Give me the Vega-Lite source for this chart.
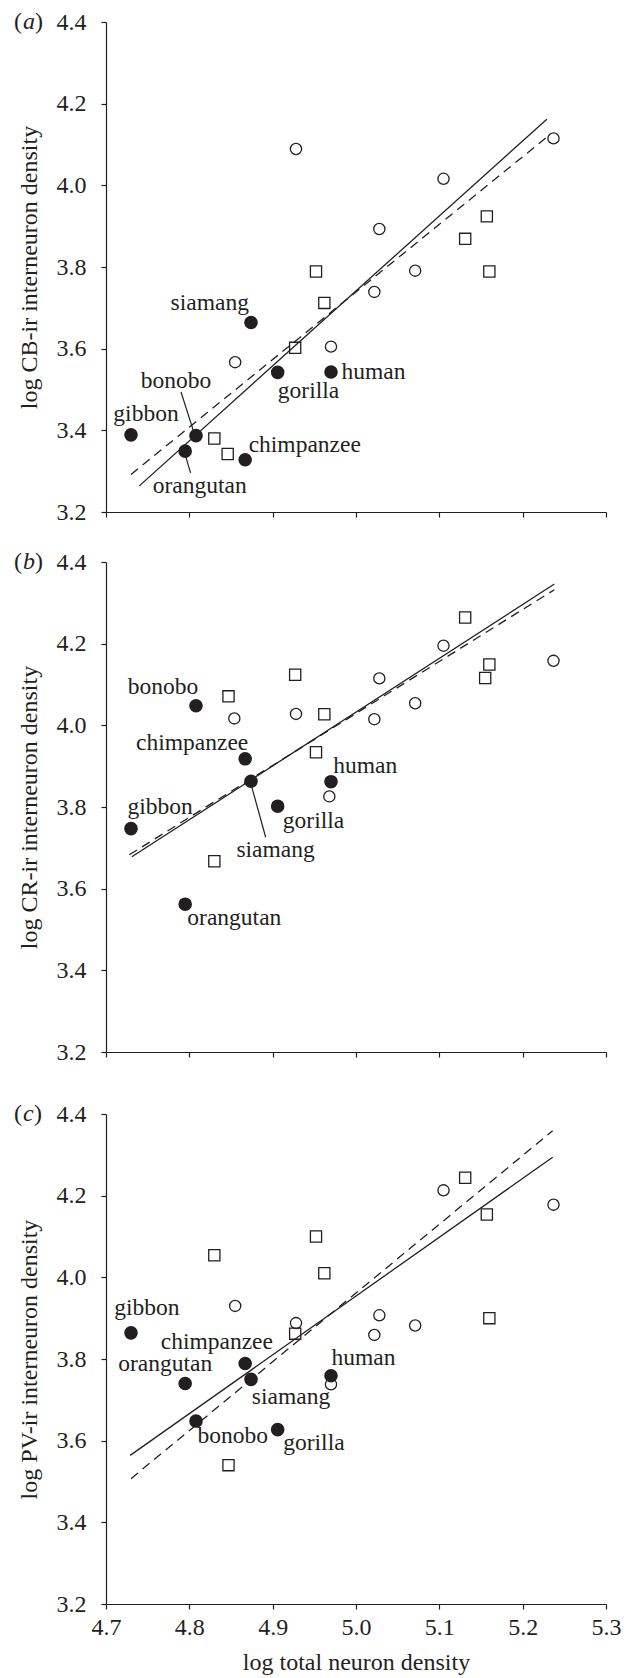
{
"$schema": "https://vega.github.io/schema/vega-lite/v6.json",
"padding": {"left": 13, "top": 10, "right": 5, "bottom": 3},
"background": "white",
"config": {
  "font": "Liberation Serif",
  "view": {"stroke": null},
  "axis": {"grid": false, "domainColor": "#231f20", "tickColor": "#231f20", "labelColor": "#231f20", "titleColor": "#231f20", "labelFont": "Liberation Serif", "titleFont": "Liberation Serif", "labelFontSize": 24, "titleFontSize": 24, "titleFontWeight": "normal", "tickSize": 5, "domainWidth": 1.2, "tickWidth": 1.2},
  "axisY": {"labelPadding": 15, "titlePadding": 15},
  "axisX": {"labelPadding": 6, "labelFlush": false, "titlePadding": 11},
  "text": {"font": "Liberation Serif", "fontSize": 23.5, "color": "#231f20"}
},
"datasets": {
  "pts": [
    {"p": "a", "t": "circle", "x": 4.928, "y": 4.089},
    {"p": "a", "t": "circle", "x": 5.237, "y": 4.115},
    {"p": "a", "t": "circle", "x": 5.105, "y": 4.016},
    {"p": "a", "t": "circle", "x": 5.028, "y": 3.893},
    {"p": "a", "t": "circle", "x": 5.071, "y": 3.791},
    {"p": "a", "t": "circle", "x": 5.022, "y": 3.739},
    {"p": "a", "t": "circle", "x": 4.970, "y": 3.605},
    {"p": "a", "t": "circle", "x": 4.855, "y": 3.567},
    {"p": "a", "t": "square", "x": 4.952, "y": 3.789},
    {"p": "a", "t": "square", "x": 4.962, "y": 3.712},
    {"p": "a", "t": "square", "x": 4.927, "y": 3.602},
    {"p": "a", "t": "square", "x": 5.157, "y": 3.924},
    {"p": "a", "t": "square", "x": 5.131, "y": 3.869},
    {"p": "a", "t": "square", "x": 5.160, "y": 3.789},
    {"p": "a", "t": "square", "x": 4.830, "y": 3.380},
    {"p": "a", "t": "square", "x": 4.846, "y": 3.342},
    {"p": "a", "t": "ape", "name": "gibbon", "x": 4.730, "y": 3.389},
    {"p": "a", "t": "ape", "name": "bonobo", "x": 4.808, "y": 3.387},
    {"p": "a", "t": "ape", "name": "orangutan", "x": 4.795, "y": 3.349},
    {"p": "a", "t": "ape", "name": "chimpanzee", "x": 4.867, "y": 3.328},
    {"p": "a", "t": "ape", "name": "siamang", "x": 4.874, "y": 3.664},
    {"p": "a", "t": "ape", "name": "gorilla", "x": 4.906, "y": 3.542},
    {"p": "a", "t": "ape", "name": "human", "x": 4.970, "y": 3.543},
    {"p": "b", "t": "circle", "x": 4.854, "y": 4.017},
    {"p": "b", "t": "circle", "x": 4.928, "y": 4.028},
    {"p": "b", "t": "circle", "x": 5.028, "y": 4.115},
    {"p": "b", "t": "circle", "x": 5.022, "y": 4.015},
    {"p": "b", "t": "circle", "x": 5.071, "y": 4.054},
    {"p": "b", "t": "circle", "x": 5.105, "y": 4.195},
    {"p": "b", "t": "circle", "x": 5.237, "y": 4.158},
    {"p": "b", "t": "circle", "x": 4.968, "y": 3.826},
    {"p": "b", "t": "square", "x": 4.847, "y": 4.071},
    {"p": "b", "t": "square", "x": 4.927, "y": 4.124},
    {"p": "b", "t": "square", "x": 4.962, "y": 4.027},
    {"p": "b", "t": "square", "x": 4.952, "y": 3.934},
    {"p": "b", "t": "square", "x": 5.131, "y": 4.264},
    {"p": "b", "t": "square", "x": 5.160, "y": 4.149},
    {"p": "b", "t": "square", "x": 5.155, "y": 4.116},
    {"p": "b", "t": "square", "x": 4.830, "y": 3.667},
    {"p": "b", "t": "ape", "name": "bonobo", "x": 4.808, "y": 4.048},
    {"p": "b", "t": "ape", "name": "chimpanzee", "x": 4.867, "y": 3.918},
    {"p": "b", "t": "ape", "name": "siamang", "x": 4.874, "y": 3.863},
    {"p": "b", "t": "ape", "name": "human", "x": 4.970, "y": 3.862},
    {"p": "b", "t": "ape", "name": "gorilla", "x": 4.906, "y": 3.802},
    {"p": "b", "t": "ape", "name": "gibbon", "x": 4.730, "y": 3.747},
    {"p": "b", "t": "ape", "name": "orangutan", "x": 4.795, "y": 3.562},
    {"p": "c", "t": "circle", "x": 4.855, "y": 3.930},
    {"p": "c", "t": "circle", "x": 4.928, "y": 3.888},
    {"p": "c", "t": "circle", "x": 5.028, "y": 3.907},
    {"p": "c", "t": "circle", "x": 5.022, "y": 3.859},
    {"p": "c", "t": "circle", "x": 5.071, "y": 3.882},
    {"p": "c", "t": "circle", "x": 5.105, "y": 4.213},
    {"p": "c", "t": "circle", "x": 5.237, "y": 4.178},
    {"p": "c", "t": "circle", "x": 4.970, "y": 3.738},
    {"p": "c", "t": "square", "x": 4.830, "y": 4.054},
    {"p": "c", "t": "square", "x": 4.952, "y": 4.100},
    {"p": "c", "t": "square", "x": 4.962, "y": 4.010},
    {"p": "c", "t": "square", "x": 4.927, "y": 3.862},
    {"p": "c", "t": "square", "x": 5.131, "y": 4.244},
    {"p": "c", "t": "square", "x": 5.157, "y": 4.154},
    {"p": "c", "t": "square", "x": 5.160, "y": 3.900},
    {"p": "c", "t": "square", "x": 4.847, "y": 3.540},
    {"p": "c", "t": "ape", "name": "gibbon", "x": 4.730, "y": 3.864},
    {"p": "c", "t": "ape", "name": "orangutan", "x": 4.795, "y": 3.740},
    {"p": "c", "t": "ape", "name": "chimpanzee", "x": 4.867, "y": 3.789},
    {"p": "c", "t": "ape", "name": "siamang", "x": 4.874, "y": 3.750},
    {"p": "c", "t": "ape", "name": "bonobo", "x": 4.808, "y": 3.648},
    {"p": "c", "t": "ape", "name": "gorilla", "x": 4.906, "y": 3.627},
    {"p": "c", "t": "ape", "name": "human", "x": 4.970, "y": 3.759}
  ],
  "fits": [
    {"p": "a", "kind": "solid", "x": 4.740, "y": 3.264},
    {"p": "a", "kind": "solid", "x": 5.229, "y": 4.162},
    {"p": "a", "kind": "dashed", "x": 4.730, "y": 3.292},
    {"p": "a", "kind": "dashed", "x": 5.229, "y": 4.118},
    {"p": "b", "kind": "solid", "x": 4.731, "y": 3.678},
    {"p": "b", "kind": "solid", "x": 5.238, "y": 4.346},
    {"p": "b", "kind": "dashed", "x": 4.728, "y": 3.683},
    {"p": "b", "kind": "dashed", "x": 5.238, "y": 4.332},
    {"p": "c", "kind": "solid", "x": 4.729, "y": 3.564},
    {"p": "c", "kind": "solid", "x": 5.236, "y": 4.294},
    {"p": "c", "kind": "dashed", "x": 4.730, "y": 3.507},
    {"p": "c", "kind": "dashed", "x": 5.236, "y": 4.359}
  ],
  "labels": [
    {"p": "a", "label": "siamang", "x": 4.8245, "y": 3.712},
    {"p": "a", "label": "bonobo", "x": 4.784, "y": 3.520},
    {"p": "a", "label": "gibbon", "x": 4.748, "y": 3.440},
    {"p": "a", "label": "chimpanzee", "x": 4.9385, "y": 3.364},
    {"p": "a", "label": "orangutan", "x": 4.8125, "y": 3.264},
    {"p": "a", "label": "gorilla", "x": 4.943, "y": 3.497},
    {"p": "a", "label": "human", "x": 5.021, "y": 3.542},
    {"p": "b", "label": "bonobo", "x": 4.7685, "y": 4.093},
    {"p": "b", "label": "chimpanzee", "x": 4.8034, "y": 3.957},
    {"p": "b", "label": "human", "x": 5.011, "y": 3.900},
    {"p": "b", "label": "gibbon", "x": 4.765, "y": 3.800},
    {"p": "b", "label": "gorilla", "x": 4.949, "y": 3.766},
    {"p": "b", "label": "siamang", "x": 4.9035, "y": 3.695},
    {"p": "b", "label": "orangutan", "x": 4.854, "y": 3.527},
    {"p": "c", "label": "gibbon", "x": 4.749, "y": 3.926},
    {"p": "c", "label": "chimpanzee", "x": 4.833, "y": 3.842},
    {"p": "c", "label": "orangutan", "x": 4.771, "y": 3.788},
    {"p": "c", "label": "human", "x": 5.009, "y": 3.802},
    {"p": "c", "label": "siamang", "x": 4.922, "y": 3.707},
    {"p": "c", "label": "bonobo", "x": 4.852, "y": 3.612},
    {"p": "c", "label": "gorilla", "x": 4.9495, "y": 3.594}
  ],
  "tags": [
    {"p": "a", "part": "(", "italic": false, "x": 4.5896, "y": 4.4},
    {"p": "a", "part": "a", "italic": true, "x": 4.6004, "y": 4.4},
    {"p": "a", "part": ")", "italic": false, "x": 4.6148, "y": 4.4},
    {"p": "b", "part": "(", "italic": false, "x": 4.5896, "y": 4.4},
    {"p": "b", "part": "b", "italic": true, "x": 4.6004, "y": 4.4},
    {"p": "b", "part": ")", "italic": false, "x": 4.6148, "y": 4.4},
    {"p": "c", "part": "(", "italic": false, "x": 4.5896, "y": 4.4},
    {"p": "c", "part": "c", "italic": true, "x": 4.6004, "y": 4.4},
    {"p": "c", "part": ")", "italic": false, "x": 4.6136, "y": 4.4}
  ],
  "leaders": [
    {"p": "a", "x": 4.790, "y": 3.494, "x2": 4.8055, "y2": 3.395},
    {"p": "a", "x": 4.7958, "y": 3.335, "x2": 4.8015, "y2": 3.296},
    {"p": "b", "x": 4.8748, "y": 3.850, "x2": 4.8916, "y2": 3.726}
  ]
},
"spacing": 38,
"vconcat": [
  {
    "spacing": 26,
    "vconcat": [
      {
        "width": 500, "height": 490,
        "encoding": {
          "x": {"field": "x", "type": "quantitative", "scale": {"domain": [4.7, 5.3], "nice": false, "zero": false}, "axis": {"values": [4.7, 4.8, 4.9, 5.0, 5.1, 5.2, 5.3], "labels": false, "title": null}},
          "y": {"field": "y", "type": "quantitative", "scale": {"domain": [3.2, 4.4], "nice": false, "zero": false}, "axis": {"values": [3.2, 3.4, 3.6, 3.8, 4.0, 4.2, 4.4], "format": ".1f", "title": "log CB-ir interneuron density"}}
        },
        "layer": [
          {"data": {"name": "fits"}, "transform": [{"filter": "datum.p === 'a' && datum.kind === 'solid'"}], "mark": {"type": "line", "color": "#231f20", "strokeWidth": 1.3}},
          {"data": {"name": "fits"}, "transform": [{"filter": "datum.p === 'a' && datum.kind === 'dashed'"}], "mark": {"type": "line", "color": "#231f20", "strokeWidth": 1.3, "strokeDash": [9, 6]}},
          {"data": {"name": "leaders"}, "transform": [{"filter": "datum.p === 'a'"}], "mark": {"type": "rule", "color": "#231f20", "strokeWidth": 1.2}, "encoding": {"x2": {"field": "x2"}, "y2": {"field": "y2"}}},
          {"data": {"name": "pts"}, "transform": [{"filter": "datum.p === 'a' && datum.t === 'circle'"}], "mark": {"type": "point", "shape": "circle", "filled": false, "stroke": "#231f20", "strokeWidth": 1.3, "size": 125, "opacity": 1}},
          {"data": {"name": "pts"}, "transform": [{"filter": "datum.p === 'a' && datum.t === 'square'"}], "mark": {"type": "point", "shape": "square", "filled": false, "stroke": "#231f20", "strokeWidth": 1.3, "size": 125, "opacity": 1}},
          {"data": {"name": "pts"}, "transform": [{"filter": "datum.p === 'a' && datum.t === 'ape'"}], "mark": {"type": "point", "shape": "circle", "filled": true, "color": "#231f20", "size": 185, "opacity": 1}},
          {"data": {"name": "labels"}, "transform": [{"filter": "datum.p === 'a'"}], "mark": {"type": "text", "baseline": "middle", "align": "center"}, "encoding": {"text": {"field": "label"}}},
          {"data": {"name": "tags"}, "transform": [{"filter": "datum.p === 'a' && !datum.italic"}], "mark": {"type": "text", "baseline": "middle", "align": "left", "fontSize": 24}, "encoding": {"text": {"field": "part"}}},
          {"data": {"name": "tags"}, "transform": [{"filter": "datum.p === 'a' && datum.italic"}], "mark": {"type": "text", "baseline": "middle", "align": "left", "fontSize": 24, "fontStyle": "italic"}, "encoding": {"text": {"field": "part"}}}
        ]
      },
      {
        "width": 500, "height": 490,
        "encoding": {
          "x": {"field": "x", "type": "quantitative", "scale": {"domain": [4.7, 5.3], "nice": false, "zero": false}, "axis": {"values": [4.7, 4.8, 4.9, 5.0, 5.1, 5.2, 5.3], "labels": false, "title": null}},
          "y": {"field": "y", "type": "quantitative", "scale": {"domain": [3.2, 4.4], "nice": false, "zero": false}, "axis": {"values": [3.2, 3.4, 3.6, 3.8, 4.0, 4.2, 4.4], "format": ".1f", "title": "log CR-ir interneuron density"}}
        },
        "layer": [
          {"data": {"name": "fits"}, "transform": [{"filter": "datum.p === 'b' && datum.kind === 'solid'"}], "mark": {"type": "line", "color": "#231f20", "strokeWidth": 1.3}},
          {"data": {"name": "fits"}, "transform": [{"filter": "datum.p === 'b' && datum.kind === 'dashed'"}], "mark": {"type": "line", "color": "#231f20", "strokeWidth": 1.3, "strokeDash": [9, 6]}},
          {"data": {"name": "leaders"}, "transform": [{"filter": "datum.p === 'b'"}], "mark": {"type": "rule", "color": "#231f20", "strokeWidth": 1.2}, "encoding": {"x2": {"field": "x2"}, "y2": {"field": "y2"}}},
          {"data": {"name": "pts"}, "transform": [{"filter": "datum.p === 'b' && datum.t === 'circle'"}], "mark": {"type": "point", "shape": "circle", "filled": false, "stroke": "#231f20", "strokeWidth": 1.3, "size": 125, "opacity": 1}},
          {"data": {"name": "pts"}, "transform": [{"filter": "datum.p === 'b' && datum.t === 'square'"}], "mark": {"type": "point", "shape": "square", "filled": false, "stroke": "#231f20", "strokeWidth": 1.3, "size": 125, "opacity": 1}},
          {"data": {"name": "pts"}, "transform": [{"filter": "datum.p === 'b' && datum.t === 'ape'"}], "mark": {"type": "point", "shape": "circle", "filled": true, "color": "#231f20", "size": 185, "opacity": 1}},
          {"data": {"name": "labels"}, "transform": [{"filter": "datum.p === 'b'"}], "mark": {"type": "text", "baseline": "middle", "align": "center"}, "encoding": {"text": {"field": "label"}}},
          {"data": {"name": "tags"}, "transform": [{"filter": "datum.p === 'b' && !datum.italic"}], "mark": {"type": "text", "baseline": "middle", "align": "left", "fontSize": 24}, "encoding": {"text": {"field": "part"}}},
          {"data": {"name": "tags"}, "transform": [{"filter": "datum.p === 'b' && datum.italic"}], "mark": {"type": "text", "baseline": "middle", "align": "left", "fontSize": 24, "fontStyle": "italic"}, "encoding": {"text": {"field": "part"}}}
        ]
      }
    ]
  },
  {
    "width": 500, "height": 490,
    "encoding": {
      "x": {"field": "x", "type": "quantitative", "scale": {"domain": [4.7, 5.3], "nice": false, "zero": false}, "axis": {"values": [4.7, 4.8, 4.9, 5.0, 5.1, 5.2, 5.3], "format": ".1f", "title": "log total neuron density"}},
      "y": {"field": "y", "type": "quantitative", "scale": {"domain": [3.2, 4.4], "nice": false, "zero": false}, "axis": {"values": [3.2, 3.4, 3.6, 3.8, 4.0, 4.2, 4.4], "format": ".1f", "title": "log PV-ir interneuron density"}}
    },
    "layer": [
      {"data": {"name": "fits"}, "transform": [{"filter": "datum.p === 'c' && datum.kind === 'solid'"}], "mark": {"type": "line", "color": "#231f20", "strokeWidth": 1.3}},
      {"data": {"name": "fits"}, "transform": [{"filter": "datum.p === 'c' && datum.kind === 'dashed'"}], "mark": {"type": "line", "color": "#231f20", "strokeWidth": 1.3, "strokeDash": [9, 6]}},
      {"data": {"name": "pts"}, "transform": [{"filter": "datum.p === 'c' && datum.t === 'circle'"}], "mark": {"type": "point", "shape": "circle", "filled": false, "stroke": "#231f20", "strokeWidth": 1.3, "size": 125, "opacity": 1}},
      {"data": {"name": "pts"}, "transform": [{"filter": "datum.p === 'c' && datum.t === 'square'"}], "mark": {"type": "point", "shape": "square", "filled": false, "stroke": "#231f20", "strokeWidth": 1.3, "size": 125, "opacity": 1}},
      {"data": {"name": "pts"}, "transform": [{"filter": "datum.p === 'c' && datum.t === 'ape'"}], "mark": {"type": "point", "shape": "circle", "filled": true, "color": "#231f20", "size": 185, "opacity": 1}},
      {"data": {"name": "labels"}, "transform": [{"filter": "datum.p === 'c'"}], "mark": {"type": "text", "baseline": "middle", "align": "center"}, "encoding": {"text": {"field": "label"}}},
      {"data": {"name": "tags"}, "transform": [{"filter": "datum.p === 'c' && !datum.italic"}], "mark": {"type": "text", "baseline": "middle", "align": "left", "fontSize": 24}, "encoding": {"text": {"field": "part"}}},
      {"data": {"name": "tags"}, "transform": [{"filter": "datum.p === 'c' && datum.italic"}], "mark": {"type": "text", "baseline": "middle", "align": "left", "fontSize": 24, "fontStyle": "italic"}, "encoding": {"text": {"field": "part"}}}
    ]
  }
]
}
